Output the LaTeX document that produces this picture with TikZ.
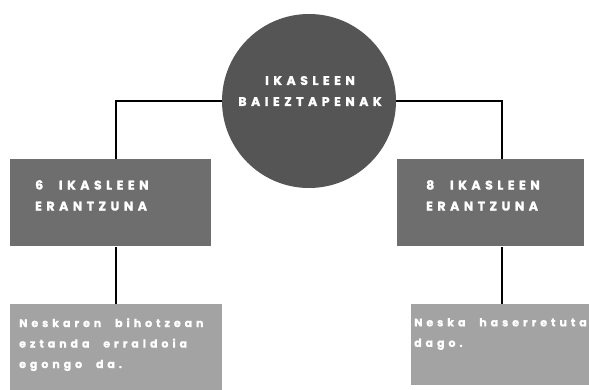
\documentclass[tikz,border=0pt]{standalone}
\usepackage{fontspec}
\setmainfont{Poppins}
\newfontfamily\capsfont[LetterSpace=36,WordSpace=2.2,UprightFont={* Bold},FakeBold=1.5]{Poppins}
\newfontfamily\bodyfont[LetterSpace=36,WordSpace=2.2,UprightFont={* Bold},FakeBold=1.2]{Poppins}
\definecolor{circlegray}{HTML}{555555}
\definecolor{darkbox}{HTML}{6E6E6E}
\definecolor{lightbox}{HTML}{A3A3A3}
\begin{document}
\begin{tikzpicture}[x=1pt,y=-1pt,
  conn/.style={draw=black,line width=2pt},
  headfont/.style={font=\capsfont\fontsize{12.5}{21}\selectfont},
  headtext/.style={headfont,text=white,align=left,anchor=north west,inner sep=0},
  bodytext/.style={text=white,font=\bodyfont\fontsize{11}{20.5}\selectfont,align=left,anchor=north west,inner sep=0}]
\useasboundingbox (0,0) rectangle (589,390);
% shapes
\node[circle,fill=circlegray,minimum size=174pt,inner sep=0] (c) at (309,101) {};
\node[headfont,text=white,align=center] (ct) at (310,91) {IKASLEEN\\BAIEZTAPENAK};
\fill[darkbox] (10,159) rectangle (211,246);
\coordinate (l1top) at (116,159);
\coordinate (l1bot) at (116,247);
\fill[darkbox] (397,159) rectangle (584,246);
\coordinate (r1top) at (502,159);
\coordinate (r1bot) at (502,247);
\fill[lightbox] (10,304) rectangle (222,390);
\coordinate (l2top) at (116,304);
\fill[lightbox] (411,304) rectangle (589,385);
\coordinate (r2top) at (502,304);
% texts
\node[headtext] (lt) at (35,180) {6 IKASLEEN\\ERANTZUNA};
\node[headtext] (rt) at (426,180) {8 IKASLEEN\\ERANTZUNA};
\node[bodytext] (lb) at (19,318) {Neskaren bihotzean\\eztanda erraldoia\\egongo da.};
\node[bodytext] (rb) at (414,318) {Neska haserretuta\\dago.};
% connectors
\draw[conn] (l1top) |- (c.west);
\draw[conn] (r1top) |- (c.east);
\draw[conn] (l1bot) -- (l2top);
\draw[conn] (r1bot) -- (r2top);
\end{tikzpicture}
\end{document}
